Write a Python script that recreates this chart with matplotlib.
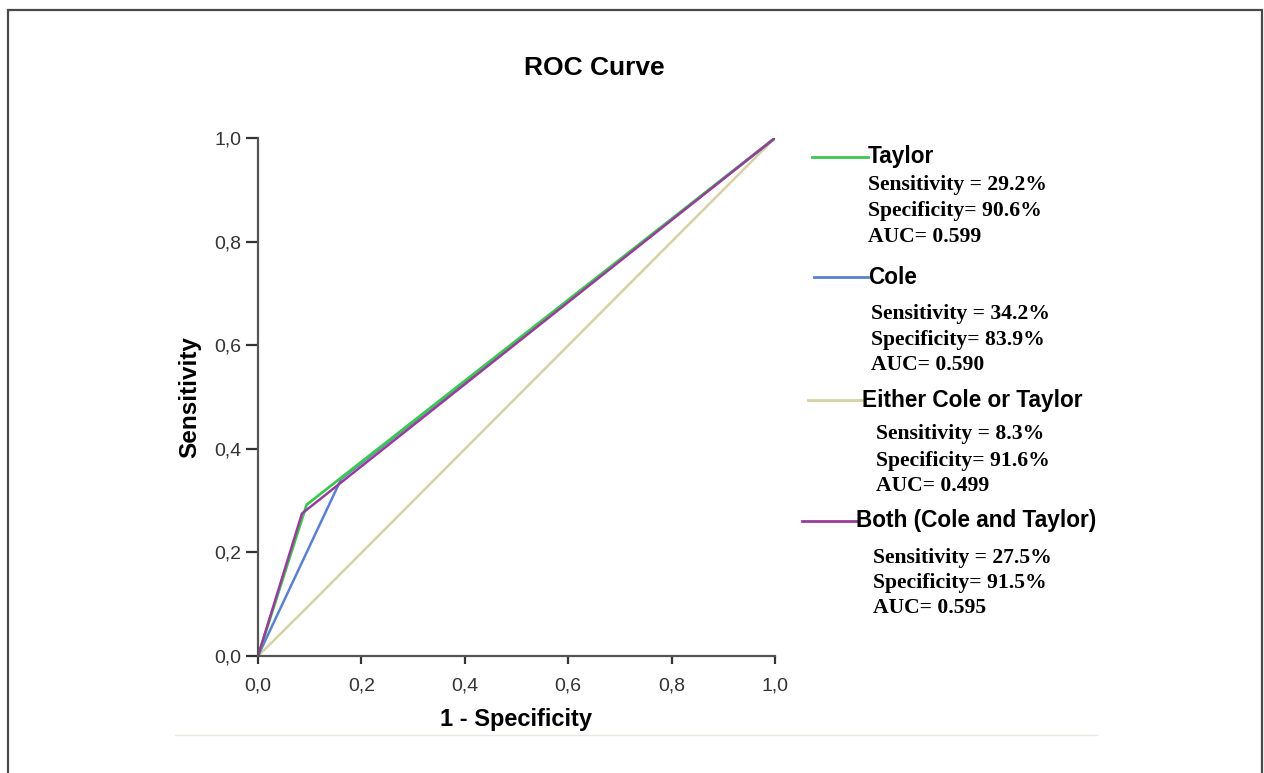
import matplotlib
matplotlib.use("Agg")
import matplotlib.pyplot as plt
from matplotlib.lines import Line2D
from matplotlib.patches import Rectangle

# ROC points (1 - specificity, sensitivity)
fpr_taylor = [0.0, 0.094, 1.0]
tpr_taylor = [0.0, 0.292, 1.0]
fpr_cole = [0.0, 0.161, 1.0]
tpr_cole = [0.0, 0.342, 1.0]
fpr_either = [0.0, 0.084, 1.0]
tpr_either = [0.0, 0.083, 1.0]
fpr_both = [0.0, 0.085, 1.0]
tpr_both = [0.0, 0.275, 1.0]

ticks = [0.0, 0.2, 0.4, 0.6, 0.8, 1.0]
tick_labels = ['0,0', '0,2', '0,4', '0,6', '0,8', '1,0']

names = ['Taylor', 'Cole', 'Either Cole or Taylor', 'Both (Cole and Taylor)']
sens = ['29.2%', '34.2%', '8.3%', '27.5%']
spec = ['90.6%', '83.9%', '91.6%', '91.5%']
auc = ['0.599', '0.590', '0.499', '0.595']

c_taylor = '#3cc850'
c_cole = '#5b80d2'
c_either = '#d8d0a6'
c_both = '#983c9c'

W, H = 1264, 773
fig = plt.figure(figsize=(W / 100, H / 100), dpi=100)
ax = fig.add_axes([258 / W, 1 - 656 / H, 517 / W, 518 / H])

ax.plot(fpr_either, tpr_either, color=c_either, lw=1.8, solid_capstyle='round')
ax.plot(fpr_cole, tpr_cole, color=c_cole, lw=1.8)
ax.plot(fpr_taylor, tpr_taylor, color=c_taylor, lw=2.0)
ax.plot(fpr_both, tpr_both, color=c_both, lw=1.8)

ax.set_xlim(0, 1)
ax.set_ylim(0, 1)
ax.set_xticks(ticks)
ax.set_xticklabels(tick_labels)
ax.set_yticks(ticks)
ax.set_yticklabels(tick_labels)
for s in ['top', 'right']:
    ax.spines[s].set_visible(False)
for s in ['left', 'bottom']:
    ax.spines[s].set_color('#555555')
    ax.spines[s].set_linewidth(1.6)
ax.tick_params(axis='y', length=9, width=1.6, color='#333333', pad=3,
               labelsize=14, labelcolor='#333333')
ax.tick_params(axis='x', length=5.5, width=1.6, color='#333333', pad=10,
               labelsize=14, labelcolor='#333333')
for lab in ax.get_xticklabels() + ax.get_yticklabels():
    lab.set_family('Liberation Sans')

ax.set_xlabel('1 - Specificity', fontsize=17, fontweight='bold',
              family='Liberation Sans', labelpad=10)
ax.set_ylabel('Sensitivity', fontsize=17.5, fontweight='bold',
              family='Liberation Sans', labelpad=9)
fig.text(594 / W, 1 - 68 / H, 'ROC Curve', fontsize=19, fontweight='bold',
         family='Liberation Sans', ha='center', va='center')

# legend block drawn by hand
colors = [c_taylor, c_cole, c_either, c_both]
line_x = [(812, 868), (814, 868), (808, 862), (802, 856)]
name_y = [157, 277, 400, 521]
stat_x = [868, 871, 876, 873]
stat_y = [(185, 211, 237), (314, 340, 365), (434, 461, 486), (558, 583, 608)]
for i in range(4):
    x0, x1 = line_x[i]
    fig.add_artist(Line2D([x0 / W, x1 / W], [1 - name_y[i] / H] * 2,
                          color=colors[i], lw=2, transform=fig.transFigure))
    fig.text(x1 / W, 1 - name_y[i] / H, names[i], fontsize=16.3,
             fontweight='bold', family='Liberation Sans', va='center')
    rows = ['Sensitivity = ' + sens[i], 'Specificity= ' + spec[i],
            'AUC= ' + auc[i]]
    for r, yy in zip(rows, stat_y[i]):
        fig.text(stat_x[i] / W, 1 - yy / H, r, fontsize=15.6,
                 fontweight='bold', family='Liberation Serif', va='center')

# separator and outer frame
fig.add_artist(Line2D([175 / W, 1097 / W], [1 - 735 / H] * 2,
                      color='#e8e8e0', lw=1, transform=fig.transFigure))
fig.add_artist(Rectangle((8 / W, -0.05), (1262 - 8) / W, 1.05 - 10 / H,
                         fill=False, edgecolor='#4a4a4a', lw=1.6,
                         transform=fig.transFigure))

fig.savefig('out.png', dpi=100)
